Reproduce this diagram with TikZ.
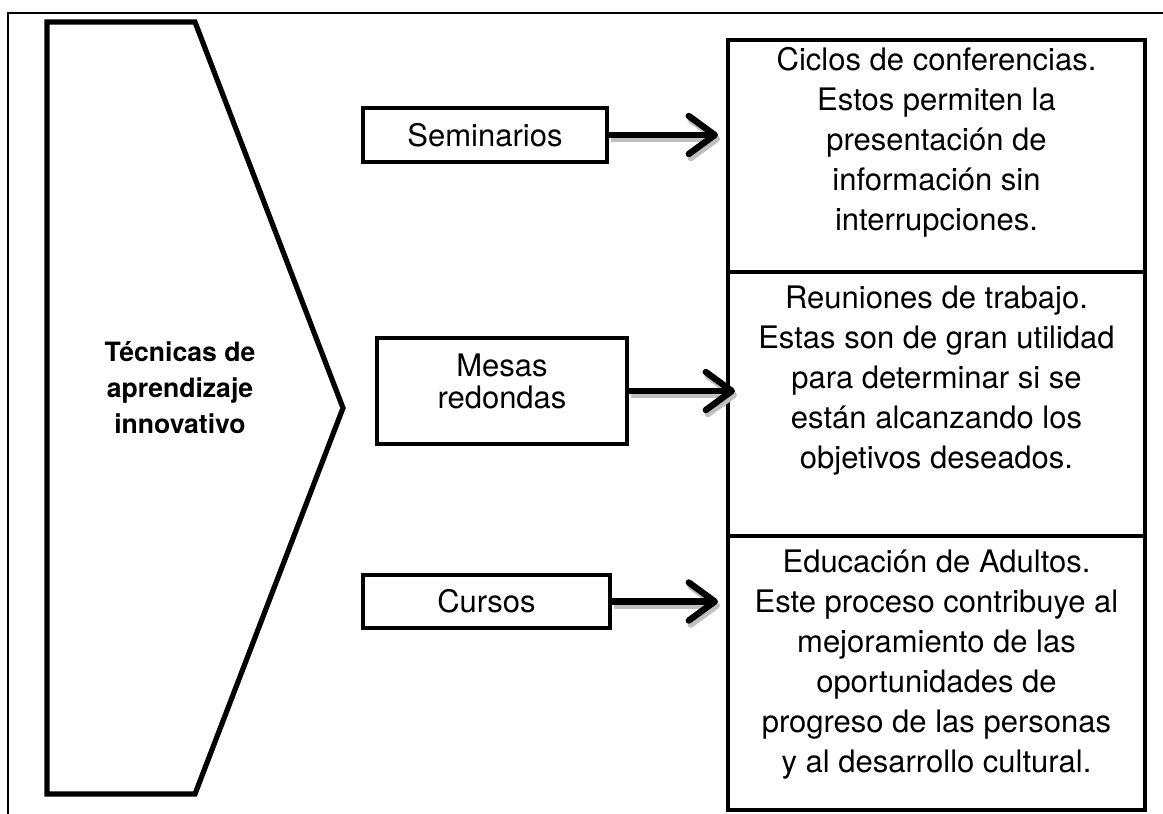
\documentclass[tikz,border=0pt]{standalone}
\usepackage{fontspec}
\setmainfont{TeX Gyre Heros}
\usetikzlibrary{arrows.meta,calc}
\begin{document}
\begin{tikzpicture}[x=0.5pt,y=-0.5pt,
  frameline/.style={line width=0.75pt},
  chevron/.style={line width=2.6pt, line join=miter},
  bigbox/.style={draw, line width=2pt, minimum width=208.5pt, inner sep=0pt},
  smallbox/.style={draw, line width=2pt, inner sep=0pt, align=center,
    font=\fontsize{15.5}{16}\selectfont},
  txt/.style={align=center, inner sep=0pt, font=\fontsize{15.5}{20}\selectfont},
  titletxt/.style={align=center, inner sep=0pt, font=\bfseries\fontsize{13.3}{18}\selectfont},
  arr/.style={line width=3.2pt, -{Straight Barb[round, length=13pt, width=19pt]}},
  arrshadow/.style={arr, draw=gray!50, transform canvas={xshift=1pt, yshift=-2pt}}
]
\useasboundingbox (0,0) rectangle (1163,814);
\draw[frameline] (8,814) -- (8,13) -- (1163,13);
\draw[chevron] (47,22) -- (195,22) -- (343,408) -- (195,794) -- (47,794) -- cycle;
\node[titletxt] (tech) at (180,388) {Técnicas de\\aprendizaje\\innovativo};

\node[bigbox, minimum height=116pt] (b1) at (936.5,156) {};
\node[bigbox, minimum height=132pt] (b2) at (936.5,404) {};
\node[bigbox, minimum height=137pt] (b3) at (936.5,673) {};
\node[txt] (t1) at ($(b1.center)+(0,-14)$) {Ciclos de conferencias.\\Estos permiten la\\presentación de\\información sin\\interrupciones.};
\node[txt] (t2) at ($(b2.center)+(0,-23)$) {Reuniones de trabajo.\\Estas son de gran utilidad\\para determinar si se\\están alcanzando los\\objetivos deseados.};
\node[txt] (t3) at ($(b3.center)+(0,-8)$) {Educación de Adultos.\\Este proceso contribuye al\\mejoramiento de las\\oportunidades de\\progreso de las personas\\y al desarrollo cultural.};

\node[smallbox, minimum width=122pt, minimum height=27pt] (sem) at (485,135) {Seminarios};
\node[smallbox, minimum width=125pt, minimum height=53pt] (mes) at (502,391) {};
\node[smallbox] (mestxt) at ($(mes.center)+(0,-10)$) [draw=none] {Mesas\\redondas};
\node[smallbox, minimum width=123.5pt, minimum height=26.5pt] (cur) at (486.5,601.5) {Cursos};

\draw[arrshadow] (sem.east) -- ($(sem.east -| b1.west)+(-8,0)$);
\draw[arr] (sem.east) -- ($(sem.east -| b1.west)+(-8,0)$);
\draw[arrshadow] (mes.east) -- ($(mes.east -| b2.west)+(9,0)$);
\draw[arr] (mes.east) -- ($(mes.east -| b2.west)+(9,0)$);
\draw[arrshadow] (cur.east) -- ($(cur.east -| b3.west)+(-8,0)$);
\draw[arr] (cur.east) -- ($(cur.east -| b3.west)+(-8,0)$);
\end{tikzpicture}
\end{document}
